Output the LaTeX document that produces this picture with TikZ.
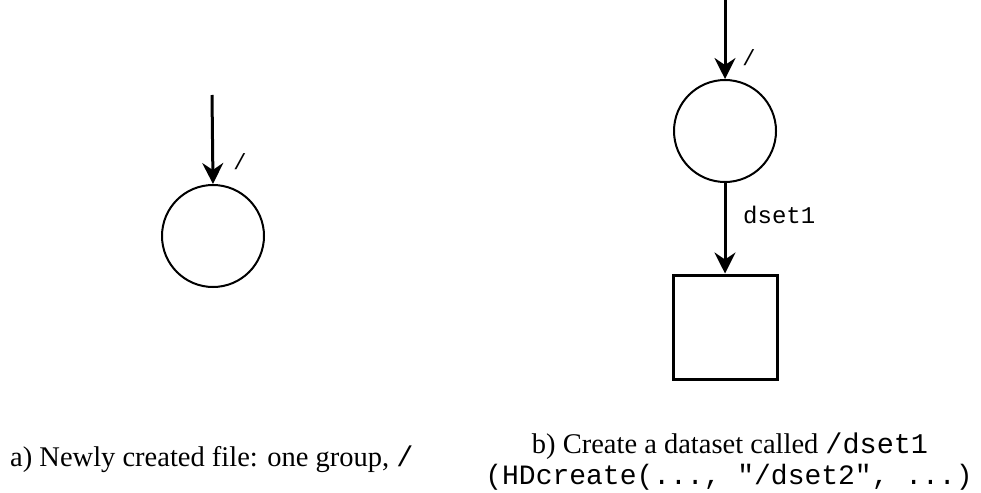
\documentclass[tikz,border=0pt]{standalone}
\usepackage{fontspec}
\setmainfont{Liberation Serif}
\setmonofont{Liberation Mono}
\usetikzlibrary{arrows.meta}
\tikzset{
  grp/.style={circle,draw,line width=2pt,minimum size=102pt,inner sep=0pt},
  dsetbox/.style={rectangle,draw,line width=3pt,minimum width=104pt,minimum height=104pt,inner sep=0pt},
  arr/.style={line width=3pt,-{Stealth[length=21pt,width=21pt,inset=7pt]}},
  lbl/.style={inner sep=0pt,font=\fontsize{22pt}{24pt}\ttfamily},
  captext/.style={inner sep=0pt,font=\fontsize{28.5pt}{32pt}\selectfont}
}
\begin{document}
\begin{tikzpicture}[x=1pt,y=-1pt]
\useasboundingbox (0,0) rectangle (981,492);
% (a)
\coordinate (topA) at (212,95);
\node[grp] (rootA) at (213,236) {};
\draw[arr] (topA) -- (rootA.north);
\node[lbl] (slashA) at (240,162) {/};
% (b)
\coordinate (topB) at (725,0);
\node[grp] (rootB) at (725,131) {};
\node[dsetbox] (dset) at (725,327) {};
\draw[arr] (topB) -- (rootB.north);
\draw[arr] (rootB.south) -- (dset.north);
\node[lbl] (slashB) at (749,58) {/};
\node[lbl,anchor=base west,font=\fontsize{24pt}{26pt}\ttfamily] (dsetlbl) at (743,223) {dset1};
% captions
\node[captext,anchor=base west] (capA) at (10,466) {a) Newly created file: one group, \texttt{/}};
\node[captext,anchor=base] (capB1) at (730,453) {b) Create a dataset called \texttt{/dset1}};
\node[captext,anchor=base,font=\fontsize{28pt}{30pt}\ttfamily] (capB2) at (729,484) {(HDcreate(..., "/dset2", ...)};
\end{tikzpicture}
\end{document}
